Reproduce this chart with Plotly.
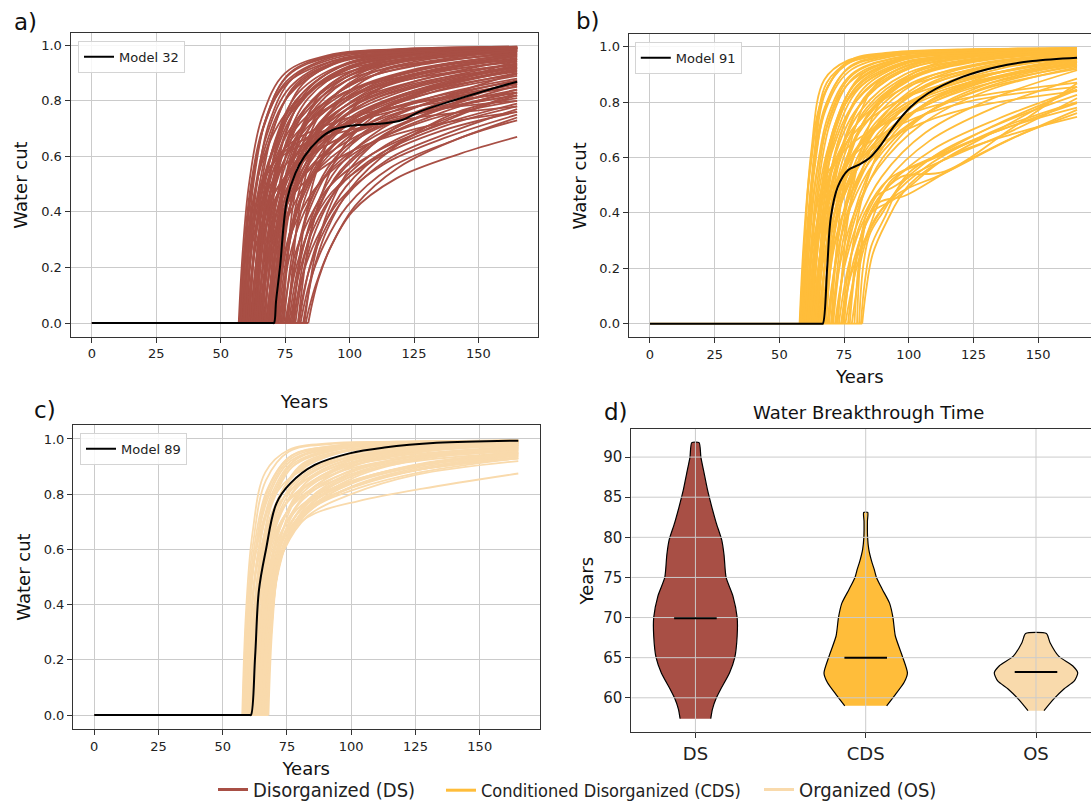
import plotly.graph_objects as go

# ---------------------------------------------------------------------------
# Water-cut curves. Each curve is zero until its breakthrough year, then it is
# sampled at fixed offsets after breakthrough and at the end of the simulation.
# ---------------------------------------------------------------------------
END_YEAR = 165
SAMPLE_OFFSETS = [1.5, 4, 9, 18, 35, 60]
YEAR_TICKS = [0, 25, 50, 75, 100, 125, 150]
WC_TICKS = [0.0, 0.2, 0.4, 0.6, 0.8, 1.0]

# Disorganized (DS) ensemble
DS_BREAKTHROUGH = [
    57.0, 57.5, 58.0, 58.2, 58.5, 59.0, 59.5, 60.0, 60.2, 60.5, 61.0, 61.5,
    62.0, 62.5, 62.8, 63.0, 63.5, 64.0, 64.5, 65.0, 65.5, 65.8, 66.0, 66.5,
    67.0, 67.5, 68.0, 68.5, 68.8, 69.0, 69.5, 70.0, 70.5, 71.0, 71.5, 72.0,
    72.5, 73.0, 74.0, 74.5, 75.0, 76.0, 77.0, 77.5, 78.0, 79.0, 80.0, 81.0,
    82.0, 83.0, 84.0,
    57.3, 57.8, 58.7, 59.2, 59.8, 60.7, 61.2, 61.8, 62.2, 63.2, 63.8, 64.2,
    64.8, 65.2, 66.2, 66.8, 67.2, 67.8, 68.2, 69.2, 69.8, 70.2, 70.8, 71.2,
    72.2, 73.5, 75.5, 76.5, 78.5, 80.5,
    59.0, 60.5, 62.0, 64.0, 66.0, 72.0, 74.0, 76.0, 78.0, 80.0, 82.5,
]
DS_WATER_CUT = [
    [.25, .50, .74, .90, .965, .985, .995],
    [.22, .46, .70, .87, .955, .98, .994],
    [.24, .48, .72, .89, .96, .982, .993],
    [.18, .36, .52, .64, .72, .78, .85],
    [.20, .42, .64, .82, .93, .97, .99],
    [.22, .46, .68, .85, .945, .975, .992],
    [.18, .38, .58, .76, .90, .96, .985],
    [.21, .44, .66, .84, .94, .975, .99],
    [.15, .30, .44, .56, .66, .74, .82],
    [.17, .36, .55, .72, .87, .94, .98],
    [.20, .42, .62, .80, .92, .965, .99],
    [.16, .33, .50, .66, .80, .89, .95],
    [.19, .40, .60, .78, .91, .96, .985],
    [.15, .30, .45, .60, .74, .84, .92],
    [.17, .37, .56, .72, .83, .89, .94],
    [.20, .43, .64, .82, .93, .97, .99],
    [.16, .35, .53, .70, .83, .91, .965],
    [.13, .28, .43, .58, .71, .81, .89],
    [.18, .39, .59, .77, .89, .95, .98],
    [.15, .33, .50, .66, .79, .87, .935],
    [.14, .31, .48, .64, .78, .87, .95],
    [.20, .44, .67, .84, .94, .975, .992],
    [.19, .42, .64, .81, .92, .965, .99],
    [.12, .27, .42, .56, .69, .78, .86],
    [.16, .36, .55, .71, .84, .91, .96],
    [.11, .25, .39, .53, .66, .76, .84],
    [.17, .38, .58, .75, .87, .93, .975],
    [.14, .32, .49, .65, .78, .86, .925],
    [.18, .40, .62, .79, .91, .96, .985],
    [.12, .28, .45, .61, .75, .84, .91],
    [.16, .35, .55, .71, .83, .90, .955],
    [.10, .22, .36, .50, .63, .73, .80],
    [.14, .31, .50, .66, .79, .87, .935],
    [.17, .38, .60, .77, .89, .95, .98],
    [.12, .27, .44, .60, .74, .83, .90],
    [.16, .37, .57, .73, .85, .92, .97],
    [.10, .23, .38, .53, .66, .76, .83],
    [.13, .30, .48, .64, .77, .85, .915],
    [.10, .22, .35, .49, .61, .71, .79],
    [.13, .29, .47, .63, .76, .85, .945],
    [.08, .19, .33, .47, .59, .69, .76],
    [.12, .27, .44, .59, .72, .81, .875],
    [.09, .20, .34, .48, .61, .71, .78],
    [.11, .25, .41, .56, .70, .80, .865],
    [.08, .18, .30, .44, .57, .67, .75],
    [.10, .22, .36, .51, .64, .74, .82],
    [.08, .18, .31, .45, .59, .69, .77],
    [.07, .16, .28, .42, .56, .66, .74],
    [.08, .19, .33, .48, .63, .76, .81],
    [.06, .14, .26, .40, .52, .61, .67],
    [.07, .16, .28, .42, .56, .67, .73],
    [.23, .47, .70, .86, .94, .97, .988],
    [.20, .40, .60, .76, .88, .94, .975],
    [.24, .50, .74, .90, .965, .985, .995],
    [.16, .33, .50, .66, .79, .87, .93],
    [.23, .48, .72, .88, .955, .98, .993],
    [.19, .40, .60, .78, .90, .95, .98],
    [.22, .46, .69, .86, .945, .975, .99],
    [.14, .29, .44, .58, .70, .79, .87],
    [.21, .44, .66, .83, .93, .97, .988],
    [.17, .37, .57, .74, .87, .93, .97],
    [.21, .45, .68, .86, .95, .978, .992],
    [.15, .32, .49, .64, .77, .86, .92],
    [.20, .43, .65, .82, .925, .965, .988],
    [.12, .26, .40, .54, .66, .75, .82],
    [.17, .37, .57, .74, .86, .93, .97],
    [.14, .30, .47, .62, .75, .84, .905],
    [.19, .41, .63, .80, .91, .96, .985],
    [.13, .29, .46, .61, .74, .83, .895],
    [.15, .33, .52, .68, .81, .89, .945],
    [.18, .40, .61, .78, .90, .955, .98],
    [.13, .29, .47, .63, .76, .85, .92],
    [.16, .36, .56, .72, .85, .92, .965],
    [.11, .25, .41, .57, .71, .81, .88],
    [.15, .34, .54, .70, .83, .91, .95],
    [.12, .27, .44, .60, .74, .84, .91],
    [.15, .34, .54, .70, .83, .91, .96],
    [.11, .25, .41, .57, .71, .81, .90],
    [.10, .22, .37, .52, .66, .76, .84],
    [.11, .24, .40, .55, .68, .78, .855],
    [.09, .20, .34, .49, .63, .74, .83],
    [.20, .40, .55, .62, .68, .73, .78],
    [.18, .36, .50, .60, .70, .77, .83],
    [.17, .34, .47, .57, .67, .75, .80],
    [.22, .46, .60, .66, .72, .79, .86],
    [.15, .30, .42, .52, .62, .70, .76],
    [.20, .45, .68, .84, .93, .97, .99],
    [.18, .42, .64, .80, .91, .96, .985],
    [.16, .38, .60, .78, .90, .95, .98],
    [.14, .33, .54, .72, .85, .92, .96],
    [.12, .28, .46, .64, .78, .87, .93],
    [.10, .24, .40, .56, .70, .80, .87],
]

# Conditioned Disorganized (CDS) ensemble
CDS_BREAKTHROUGH = [
    57.8, 58.3, 58.8, 59.0, 59.3, 59.8, 60.0, 60.3, 60.8, 61.0, 61.3, 61.8,
    62.0, 62.3, 62.8, 63.0, 63.3, 63.8, 64.0, 64.3, 64.8, 65.0, 65.3, 65.8,
    66.3, 66.8, 67.3, 67.8, 68.5, 69.2, 70.0, 70.8, 71.5, 72.3, 73.0, 73.8,
    74.0, 74.5, 75.5, 76.5, 77.2, 78.0, 79.0, 80.0, 80.8, 81.5, 82.0,
    58.0, 58.5, 59.0, 59.5, 60.5, 61.5, 62.5, 63.5, 64.5, 65.5, 66.0, 67.0,
    68.0, 69.0, 70.5, 72.0, 60.8, 62.8, 64.0, 66.5,
    60.0, 62.0, 64.0, 70.0, 72.5, 75.0,
]
CDS_WATER_CUT = [
    [.28, .56, .82, .935, .975, .988, .995],
    [.30, .62, .88, .95, .975, .985, .994],
    [.25, .52, .77, .91, .965, .982, .993],
    [.26, .54, .84, .95, .98, .99, .995],
    [.28, .60, .87, .945, .972, .984, .993],
    [.24, .50, .75, .90, .96, .98, .993],
    [.16, .34, .52, .68, .80, .88, .95],
    [.20, .42, .65, .83, .93, .97, .99],
    [.23, .48, .73, .89, .955, .98, .992],
    [.14, .30, .46, .62, .76, .86, .94],
    [.19, .40, .62, .80, .92, .965, .988],
    [.22, .46, .70, .87, .95, .975, .99],
    [.20, .44, .68, .86, .95, .978, .992],
    [.18, .38, .60, .78, .91, .96, .985],
    [.21, .45, .68, .85, .94, .972, .99],
    [.15, .32, .49, .65, .79, .88, .955],
    [.17, .36, .56, .74, .88, .945, .98],
    [.20, .43, .66, .83, .93, .97, .988],
    [.23, .50, .75, .90, .96, .98, .994],
    [.16, .34, .53, .71, .86, .93, .975],
    [.19, .41, .63, .81, .92, .965, .985],
    [.13, .28, .44, .60, .75, .86, .945],
    [.15, .32, .50, .68, .83, .91, .965],
    [.18, .39, .60, .78, .90, .955, .982],
    [.14, .30, .47, .64, .80, .89, .955],
    [.17, .37, .58, .76, .89, .95, .98],
    [.13, .28, .44, .61, .77, .87, .945],
    [.16, .35, .55, .73, .87, .94, .975],
    [.12, .26, .42, .58, .74, .85, .935],
    [.15, .33, .52, .70, .85, .93, .97],
    [.11, .24, .40, .56, .72, .84, .925],
    [.14, .31, .50, .68, .83, .92, .965],
    [.10, .22, .37, .53, .69, .81, .915],
    [.13, .29, .47, .64, .80, .90, .96],
    [.10, .22, .36, .51, .66, .78, .885],
    [.08, .18, .30, .44, .58, .70, .80],
    [.12, .26, .40, .52, .60, .72, .844],
    [.10, .22, .36, .50, .63, .74, .845],
    [.08, .19, .34, .52, .60, .70, .78],
    [.12, .28, .40, .45, .58, .71, .856],
    [.15, .30, .45, .50, .62, .73, .826],
    [.10, .25, .38, .47, .54, .66, .772],
    [.20, .35, .45, .53, .55, .70, .868],
    [.25, .38, .44, .46, .55, .67, .76],
    [.20, .32, .40, .52, .60, .70, .814],
    [.15, .28, .38, .54, .63, .72, .796],
    [.12, .25, .36, .50, .61, .69, .747],
    [.27, .56, .82, .94, .975, .988, .995],
    [.25, .52, .78, .92, .968, .984, .994],
    [.22, .46, .70, .87, .95, .975, .99],
    [.26, .55, .80, .93, .97, .985, .994],
    [.24, .50, .75, .90, .96, .98, .993],
    [.21, .44, .67, .85, .94, .97, .99],
    [.23, .48, .72, .88, .955, .978, .992],
    [.18, .38, .59, .77, .90, .955, .985],
    [.21, .45, .68, .85, .94, .972, .99],
    [.17, .36, .56, .74, .88, .945, .98],
    [.20, .43, .65, .83, .93, .97, .988],
    [.15, .32, .50, .68, .83, .92, .965],
    [.18, .39, .60, .78, .90, .955, .985],
    [.13, .28, .45, .62, .78, .88, .95],
    [.16, .35, .55, .73, .87, .94, .975],
    [.12, .26, .43, .60, .76, .87, .94],
    [.17, .36, .55, .71, .84, .91, .96],
    [.15, .31, .48, .64, .78, .87, .935],
    [.13, .28, .44, .60, .75, .85, .93],
    [.12, .26, .42, .58, .73, .84, .92],
    [.20, .40, .55, .65, .74, .81, .87],
    [.18, .36, .50, .62, .72, .80, .855],
    [.16, .33, .48, .60, .70, .78, .84],
    [.20, .45, .70, .87, .95, .975, .99],
    [.16, .38, .62, .82, .93, .97, .99],
    [.14, .32, .52, .70, .84, .92, .96],
]

# Organized (OS) ensemble
OS_BREAKTHROUGH = [
    57.6, 58.0, 58.2, 58.4, 58.8, 59.0, 59.2, 59.6, 60.0, 60.2, 60.4, 60.8,
    61.0, 61.2, 61.4, 61.6, 62.0, 62.4, 62.6, 62.8, 63.0, 63.2, 63.6, 63.8,
    64.0, 64.4, 64.8, 65.0, 65.2, 65.6, 66.0, 66.2, 66.4, 66.8, 67.2, 67.8,
    57.8, 58.6, 59.4, 60.6, 61.8, 62.2, 63.4, 64.2, 64.6, 65.4, 65.8, 66.6,
    67.0, 67.4, 59.8, 61.0, 63.0, 64.0,
]
OS_WATER_CUT = [
    [.38, .66, .88, .96, .985, .99, .995],
    [.34, .59, .81, .935, .975, .988, .994],
    [.32, .55, .74, .86, .92, .955, .975],
    [.33, .57, .78, .92, .97, .985, .993],
    [.35, .60, .82, .94, .975, .987, .994],
    [.30, .52, .70, .82, .90, .94, .97],
    [.32, .55, .76, .90, .96, .982, .992],
    [.34, .58, .79, .92, .968, .985, .993],
    [.31, .53, .73, .87, .95, .978, .99],
    [.29, .50, .68, .80, .88, .93, .96],
    [.33, .56, .77, .91, .963, .982, .992],
    [.30, .52, .71, .85, .935, .97, .988],
    [.34, .58, .80, .93, .97, .985, .993],
    [.32, .55, .75, .89, .955, .978, .99],
    [.28, .48, .66, .78, .86, .915, .95],
    [.29, .50, .69, .83, .92, .96, .985],
    [.31, .53, .73, .87, .94, .972, .988],
    [.28, .48, .67, .80, .90, .95, .98],
    [.27, .47, .64, .76, .84, .90, .94],
    [.30, .52, .71, .85, .93, .965, .985],
    [.33, .57, .78, .91, .96, .98, .99],
    [.28, .47, .65, .78, .88, .935, .975],
    [.29, .50, .69, .82, .91, .955, .98],
    [.27, .46, .62, .74, .82, .885, .93],
    [.27, .46, .63, .76, .86, .925, .965],
    [.29, .49, .67, .80, .90, .95, .978],
    [.27, .45, .61, .74, .84, .905, .955],
    [.26, .44, .60, .72, .80, .87, .92],
    [.28, .48, .65, .78, .88, .94, .97],
    [.28, .48, .64, .75, .84, .90, .945],
    [.28, .47, .63, .76, .86, .925, .96],
    [.30, .52, .72, .86, .93, .965, .985],
    [.28, .49, .64, .75, .83, .89, .94],
    [.29, .50, .66, .77, .85, .91, .95],
    [.28, .50, .65, .75, .82, .88, .93],
    [.32, .54, .67, .73, .775, .82, .875],
    [.36, .62, .85, .955, .982, .99, .995],
    [.34, .58, .80, .93, .972, .986, .994],
    [.33, .56, .77, .91, .965, .984, .993],
    [.32, .54, .74, .88, .95, .976, .99],
    [.30, .52, .71, .85, .93, .965, .986],
    [.32, .55, .76, .90, .955, .978, .99],
    [.29, .49, .68, .82, .91, .955, .98],
    [.30, .51, .70, .84, .92, .96, .985],
    [.28, .47, .64, .77, .87, .93, .97],
    [.29, .49, .67, .81, .90, .95, .978],
    [.27, .46, .62, .74, .83, .895, .94],
    [.28, .48, .65, .78, .87, .93, .965],
    [.29, .50, .66, .77, .85, .905, .95],
    [.30, .52, .67, .76, .83, .89, .935],
    [.28, .49, .67, .80, .89, .935, .965],
    [.27, .47, .65, .78, .87, .925, .955],
    [.26, .45, .62, .75, .84, .90, .945],
    [.25, .44, .60, .73, .82, .885, .93],
]

# Highlighted realisations
MODEL32_YEARS = [0, 70.2, 70.7, 71.5, 73.0, 75.7, 79.0, 82.5, 88.0, 93.4, 100.2,
                 107.0, 113.7, 120.4, 127.2, 140.8, 154.3, 165]
MODEL32_WC = [0, 0, 0, 0.08, 0.20, 0.443, 0.54, 0.60, 0.66, 0.695, 0.71,
              0.715, 0.719, 0.731, 0.761, 0.803, 0.841, 0.869]
MODEL91_YEARS = [0, 66.3, 66.8, 68.5, 69.9, 72.6, 76.6, 80.6, 84.7, 88.7, 94.1,
                 100.8, 107.5, 121.0, 134.4, 147.8, 165]
MODEL91_WC = [0, 0, 0, 0.206, 0.386, 0.495, 0.555, 0.573, 0.597, 0.639, 0.711,
              0.783, 0.832, 0.892, 0.928, 0.948, 0.96]
MODEL89_YEARS = [0, 60.5, 61.0, 62.6, 64.1, 66.8, 70.9, 76.3, 85.8, 99.3, 112.9,
                 133.2, 165]
MODEL89_WC = [0, 0, 0, 0.211, 0.453, 0.598, 0.767, 0.839, 0.906, 0.948, 0.969,
              0.986, 0.994]

# Breakthrough-time distributions (KDE half-width profiles, max = 0.25)
GROUPS = ["DS", "CDS", "OS"]
DS_PROFILE_YEARS = [57.4, 58.6, 60.0, 61.1, 63.1, 65.0, 67.7, 70.0, 72.7, 75.0,
                    77.8, 79.7, 81.8, 83.8, 85.9, 88.0, 90.0, 91.8]
DS_PROFILE_HALFWIDTH = [.090, .100, .123, .149, .200, .231, .245, .245, .220,
                        .180, .168, .154, .122, .096, .071, .051, .032, .0215]
CDS_PROFILE_YEARS = [59.0, 60.4, 61.9, 63.1, 65.2, 67.7, 70.0, 71.8, 73.5, 75.0,
                     76.0, 77.0, 78.5, 80.0, 82.0, 83.1]
CDS_PROFILE_HALFWIDTH = [.123, .174, .225, .245, .215, .174, .160, .140, .098,
                         .063, .050, .035, .018, .011, .010, .012]
OS_PROFILE_YEARS = [58.4, 59.8, 61.1, 62.1, 63.1, 64.0, 65.2, 66.9, 68.0]
OS_PROFILE_HALFWIDTH = [.047, .102, .164, .225, .245, .215, .133, .082, .061]
MEDIANS = [69.9, 65.0, 63.2]
BT_TICKS = [60, 65, 70, 75, 80, 85, 90]

COLORS = {"DS": "#A84F45", "CDS": "#FFBD3A", "OS": "#F9DAAC"}
LABELS = {"DS": "Disorganized (DS)", "CDS": "Conditioned Disorganized (CDS)",
          "OS": "Organized (OS)"}
GRID = "#cbcbcb"
SPINE = "#333333"
FONT = "DejaVu Sans"
CURVE_WIDTH = 1.8

fig = go.Figure()


def add_ensemble(t0_list, wc_list, color, xa, ya):
    # flat pre-breakthrough part shared by every realisation
    fig.add_trace(go.Scatter(x=[0, max(t0_list)], y=[0, 0], mode="lines",
                             line=dict(color=color, width=CURVE_WIDTH),
                             xaxis=xa, yaxis=ya, showlegend=False,
                             hoverinfo="skip"))
    for t0, wc in zip(t0_list, wc_list):
        xs = [t0] + [t0 + o for o in SAMPLE_OFFSETS] + [END_YEAR]
        ys = [0] + list(wc)
        fig.add_trace(go.Scatter(x=xs, y=ys, mode="lines",
                                 line=dict(color=color, width=CURVE_WIDTH,
                                           shape="spline"),
                                 xaxis=xa, yaxis=ya, showlegend=False))


def add_model(years, wc, name, xa, ya, legend):
    fig.add_trace(go.Scatter(x=years, y=wc, mode="lines", name=name,
                             line=dict(color="black", width=2, shape="spline"),
                             xaxis=xa, yaxis=ya, legend=legend))


add_ensemble(DS_BREAKTHROUGH, DS_WATER_CUT, COLORS["DS"], "x", "y")
add_model(MODEL32_YEARS, MODEL32_WC, "Model 32", "x", "y", "legend4")
add_ensemble(CDS_BREAKTHROUGH, CDS_WATER_CUT, COLORS["CDS"], "x2", "y2")
add_model(MODEL91_YEARS, MODEL91_WC, "Model 91", "x2", "y2", "legend5")
add_ensemble(OS_BREAKTHROUGH, OS_WATER_CUT, COLORS["OS"], "x3", "y3")
add_model(MODEL89_YEARS, MODEL89_WC, "Model 89", "x3", "y3", "legend6")

# violins of breakthrough time
profiles = [(DS_PROFILE_YEARS, DS_PROFILE_HALFWIDTH),
            (CDS_PROFILE_YEARS, CDS_PROFILE_HALFWIDTH),
            (OS_PROFILE_YEARS, OS_PROFILE_HALFWIDTH)]
for pos, (grp, (yrs, hw)) in enumerate(zip(GROUPS, profiles), start=1):
    xs = [pos + w for w in hw] + [pos - w for w in reversed(hw)]
    ys = list(yrs) + list(reversed(yrs))
    fig.add_trace(go.Scatter(x=xs, y=ys, mode="lines", fill="toself",
                             fillcolor=COLORS[grp],
                             line=dict(color="black", width=1.2,
                                       shape="spline", smoothing=0.6),
                             xaxis="x4", yaxis="y4", showlegend=False))

# figure-level legend entries, one small legend per ensemble
for grp, leg in zip(GROUPS, ["legend", "legend2", "legend3"]):
    fig.add_trace(go.Scatter(x=[None], y=[None], mode="lines",
                             name=LABELS[grp],
                             line=dict(color=COLORS[grp], width=3),
                             legend=leg))

W, H = 1091, 809


def px_x(v):
    return v / W


def px_y(v):
    return 1 - v / H


tick_font = dict(family=FONT, size=13, color="#222")
title_font = dict(family=FONT, size=18, color="#111")
common_axis = dict(showline=True, linecolor=SPINE, linewidth=1, ticks="outside",
                   ticklen=5, tickcolor=SPINE, showgrid=True, gridcolor=GRID,
                   gridwidth=1, zeroline=False, tickfont=tick_font,
                   automargin=False)

layout_axes = dict(
    xaxis=dict(common_axis, domain=[px_x(70.5), px_x(538.4)], anchor="y",
               range=[-8.25, 173.25], tickvals=YEAR_TICKS, mirror=True,
               title=dict(text="Years", font=title_font, standoff=35)),
    yaxis=dict(common_axis, domain=[px_y(336.7), px_y(33.3)], anchor="x",
               range=[-0.0493, 1.0432], tickvals=WC_TICKS, tickformat=".1f",
               mirror=True,
               title=dict(text="Water cut", font=title_font, standoff=8)),
    xaxis2=dict(common_axis, domain=[px_x(628.6), 1.0], anchor="y2",
                range=[-8.25, 170.4], tickvals=YEAR_TICKS, mirror=True,
                title=dict(text="Years", font=title_font, standoff=9)),
    yaxis2=dict(common_axis, domain=[px_y(337.3), px_y(34.3)], anchor="x2",
                range=[-0.0491, 1.0448], tickvals=WC_TICKS, tickformat=".1f",
                title=dict(text="Water cut", font=title_font, standoff=8)),
    xaxis3=dict(common_axis, domain=[px_x(73), px_x(539.5)], anchor="y3",
                range=[-8.25, 173.25], tickvals=YEAR_TICKS, mirror=True,
                title=dict(text="Years", font=title_font, standoff=9)),
    yaxis3=dict(common_axis, domain=[px_y(729), px_y(425)], anchor="x3",
                range=[-0.0507, 1.0507], tickvals=WC_TICKS, tickformat=".1f",
                mirror=True,
                title=dict(text="Water cut", font=title_font, standoff=8)),
    xaxis4=dict(common_axis, domain=[px_x(631.4), 1.0], anchor="y4",
                range=[0.624, 3.323], tickvals=[1, 2, 3], ticktext=GROUPS,
                mirror=True, showgrid=False,
                tickfont=dict(family=FONT, size=18, color="#222")),
    yaxis4=dict(common_axis, domain=[px_y(732.3), px_y(429)], anchor="x4",
                range=[55.7, 93.5], tickvals=BT_TICKS, showgrid=False,
                tickfont=dict(family=FONT, size=15, color="#222"),
                title=dict(text="Years", font=title_font, standoff=4)),
)

# grid of the violin panel is drawn on top of the bodies, medians on top of it
shapes = []
for v in BT_TICKS:
    shapes.append(dict(type="line", xref="x4 domain", yref="y4", x0=0, x1=1,
                       y0=v, y1=v, line=dict(color=GRID, width=1),
                       layer="above"))
for pos in [1, 2, 3]:
    shapes.append(dict(type="line", xref="x4", yref="y4 domain", x0=pos,
                       x1=pos, y0=0, y1=1, line=dict(color=GRID, width=1),
                       layer="above"))
for pos, med in enumerate(MEDIANS, start=1):
    shapes.append(dict(type="line", xref="x4", yref="y4", x0=pos - 0.125,
                       x1=pos + 0.125, y0=med, y1=med,
                       line=dict(color="black", width=2), layer="above"))

panel_font = dict(family=FONT, size=23, color="#111")
annotations = [
    dict(text="a)", x=px_x(12), y=px_y(22), xref="paper", yref="paper",
         xanchor="left", yanchor="middle", showarrow=False, font=panel_font),
    dict(text="b)", x=px_x(574), y=px_y(21), xref="paper", yref="paper",
         xanchor="left", yanchor="middle", showarrow=False, font=panel_font),
    dict(text="c)", x=px_x(32), y=px_y(410), xref="paper", yref="paper",
         xanchor="left", yanchor="middle", showarrow=False, font=panel_font),
    dict(text="d)", x=px_x(602), y=px_y(412), xref="paper", yref="paper",
         xanchor="left", yanchor="middle", showarrow=False, font=panel_font),
    dict(text="Water Breakthrough Time", x=px_x(869), y=px_y(413),
         xref="paper", yref="paper", xanchor="center", yanchor="middle",
         showarrow=False, font=dict(family=FONT, size=18, color="#111")),
]

inner_legend = dict(bgcolor="rgba(255,255,255,0.85)", bordercolor="#d4d4d4",
                    borderwidth=1, font=dict(family=FONT, size=13, color="#222"),
                    xanchor="left", yanchor="top")
legend_family = "DejaVu Sans Condensed, DejaVu Sans"
bottom_legend = dict(orientation="h", y=0, xanchor="left", yanchor="bottom",
                     bgcolor="rgba(0,0,0,0)")

fig.update_layout(
    width=W, height=H, margin=dict(l=0, r=0, t=0, b=0),
    paper_bgcolor="white", plot_bgcolor="white",
    font=dict(family=FONT, color="#222"),
    shapes=shapes, annotations=annotations,
    legend=dict(bottom_legend, x=px_x(213),
                font=dict(family=legend_family, size=20, color="#222")),
    legend2=dict(bottom_legend, x=px_x(441),
                 font=dict(family=legend_family, size=18, color="#222")),
    legend3=dict(bottom_legend, x=px_x(759),
                 font=dict(family=legend_family, size=20, color="#222")),
    legend4=dict(inner_legend, x=px_x(78), y=px_y(40.7)),
    legend5=dict(inner_legend, x=px_x(634.8), y=px_y(41.7)),
    legend6=dict(inner_legend, x=px_x(80), y=px_y(432.7)),
    **layout_axes,
)

fig.write_html("out.html")
